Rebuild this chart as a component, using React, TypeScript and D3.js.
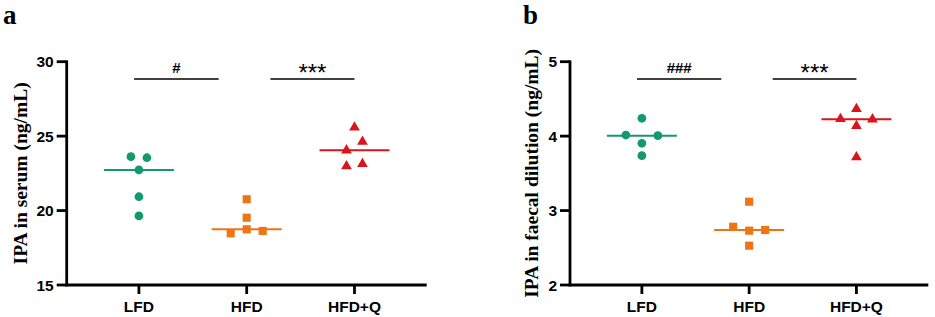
import React from 'react';
import * as d3 from 'd3';

const groups = ['LFD', 'HFD', 'HFD+Q'];

// Panel a: IPA in serum (ng/mL)
const serumLFD = [23.55, 23.62, 22.73, 20.93, 19.64];
const serumHFD = [20.76, 19.52, 18.74, 18.63, 18.47];
const serumHFDQ = [25.59, 24.63, 24.05, 23.13, 22.98];
const serumTicks = [15, 20, 25, 30];
const serumSig = ['#', '***'];

// Panel b: IPA in faecal dilution (ng/mL)
const faecalLFD = [4.24, 3.904, 4.006, 4.015, 3.737];
const faecalHFD = [3.119, 2.73, 2.739, 2.783, 2.528];
const faecalHFDQ = [4.365, 4.136, 4.226, 4.23, 3.716];
const faecalTicks = [2, 3, 4, 5];
const faecalSig = ['###', '***'];

const colors = ['#13996a', '#ee7516', '#d9141c'];
const symbols = [d3.symbolCircle, d3.symbolSquare, d3.symbolTriangle];
const symbolSizes = [60, 66, 50];

function dodge(values: number[], y: (v: number) => number, thresh = 9, step = 16) {
  const offs = values.map(() => 0);
  const idx = values.map((_, i) => i).sort((a, b) => y(values[a]) - y(values[b]));
  const clusters: number[][] = [];
  let cur: number[] = [];
  idx.forEach((i, k) => {
    if (k > 0 && Math.abs(y(values[i]) - y(values[idx[k - 1]])) >= thresh) {
      clusters.push(cur);
      cur = [];
    }
    cur.push(i);
  });
  if (cur.length) clusters.push(cur);
  clusters.forEach((c) => {
    const members = [...c].sort((a, b) => a - b);
    const n = members.length;
    const slots: number[] = [];
    if (n % 2 === 1) {
      slots.push(0);
      for (let j = 1; slots.length < n; j++) { slots.push(j); slots.push(-j); }
    } else {
      for (let j = 0; slots.length < n; j++) { slots.push(j + 0.5); slots.push(-(j + 0.5)); }
    }
    members.forEach((m, j) => { offs[m] = slots[j] * step; });
  });
  return offs;
}

type PanelProps = {
  letter: string;
  letterX: number;
  x0: number;
  x1: number;
  domain: [number, number];
  ticks: number[];
  data: number[][];
  sig: string[];
  ylabel: string;
  ylabelX: number;
};

function Panel(p: PanelProps) {
  const yTop = 61.7;
  const yBot = 285;
  const x = d3.scalePoint<string>().domain(groups).range([p.x0, p.x1]).padding(0.67);
  const y = d3.scaleLinear().domain(p.domain).range([yBot, yTop]);
  const step = x.step();
  const barY = 79;
  const bars = [
    { a: x('LFD')! - 0.045 * step, b: x('HFD')! - 0.26 * step },
    { a: x('HFD')! + 0.22 * step, b: x('HFD+Q')! + 0.0 * step },
  ];
  return (
    <g>
      <text x={p.letterX} y={24} fontFamily="'Liberation Serif', 'Times New Roman', serif" fontWeight="bold" fontSize={27}>{p.letter}</text>
      <text
        transform={`translate(${p.ylabelX},${(yTop + yBot) / 2}) rotate(-90)`}
        textAnchor="middle"
        dominantBaseline="central"
        fontFamily="'Liberation Serif', 'Times New Roman', serif"
        fontWeight="bold"
        fontSize={19.5}
      >{p.ylabel}</text>
      {/* axes */}
      <line x1={p.x0} x2={p.x0} y1={yTop - 1.3} y2={yBot + 1.3} stroke="#000" strokeWidth={2.8} />
      <line x1={p.x0 - 1.3} x2={p.x1} y1={yBot} y2={yBot} stroke="#000" strokeWidth={2.8} />
      {p.ticks.map((t) => (
        <g key={t}>
          <line x1={p.x0 - 10} x2={p.x0} y1={y(t)} y2={y(t)} stroke="#000" strokeWidth={2.8} />
          <text x={p.x0 - 13} y={y(t)} dy="0.36em" textAnchor="end" fontFamily="'Liberation Sans', Arial, sans-serif" fontWeight="bold" fontSize={15.5}>{t}</text>
        </g>
      ))}
      {groups.map((g) => (
        <g key={g}>
          <line x1={x(g)} x2={x(g)} y1={yBot} y2={yBot + 9} stroke="#000" strokeWidth={2.8} />
          <text x={x(g)} y={311.5} textAnchor="middle" fontFamily="'Liberation Sans', Arial, sans-serif" fontWeight="bold" fontSize={15.5}>{g}</text>
        </g>
      ))}
      {/* significance */}
      {bars.map((b, i) => {
        const hash = p.sig[i].startsWith('#');
        return (
          <g key={i}>
            <line x1={b.a} x2={b.b} y1={barY} y2={barY} stroke="#000" strokeWidth={1.7} />
            <text
              x={(b.a + b.b) / 2}
              y={hash ? 72.5 : 80.5}
              textAnchor="middle"
              fontFamily="'Liberation Sans', Arial, sans-serif"
              fontWeight={hash ? 'bold' : 'normal'}
              fontSize={hash ? 15 : 24}
            >{p.sig[i]}</text>
          </g>
        );
      })}
      {/* data */}
      {p.data.map((vals, gi) => {
        const cx = x(groups[gi])!;
        const offs = dodge(vals, y);
        const med = d3.median(vals)!;
        const path = d3.symbol(symbols[gi], symbolSizes[gi])()!;
        return (
          <g key={gi}>
            <line x1={cx - 35} x2={cx + 35} y1={y(med)} y2={y(med)} stroke={colors[gi]} strokeWidth={2} />
            {vals.map((v, i) => (
              <path key={i} d={path} transform={`translate(${cx + offs[i]},${y(v)})`} fill={colors[gi]} />
            ))}
          </g>
        );
      })}
    </g>
  );
}

export default function App() {
  return (
    <svg width={935} height={317} style={{ position: 'absolute', left: 0, top: 0, background: '#fff' }}>
      <rect width={935} height={317} fill="#fff" />
      <Panel
        letter="a"
        letterX={3}
        x0={66.7}
        x1={426.7}
        domain={[15, 30]}
        ticks={serumTicks}
        data={[serumLFD, serumHFD, serumHFDQ]}
        sig={serumSig}
        ylabel="IPA in serum (ng/mL)"
        ylabelX={20}
      />
      <Panel
        letter="b"
        letterX={523}
        x0={570}
        x1={928.3}
        domain={[2, 5]}
        ticks={faecalTicks}
        data={[faecalLFD, faecalHFD, faecalHFDQ]}
        sig={faecalSig}
        ylabel="IPA in faecal dilution (ng/mL)"
        ylabelX={531.7}
      />
    </svg>
  );
}
